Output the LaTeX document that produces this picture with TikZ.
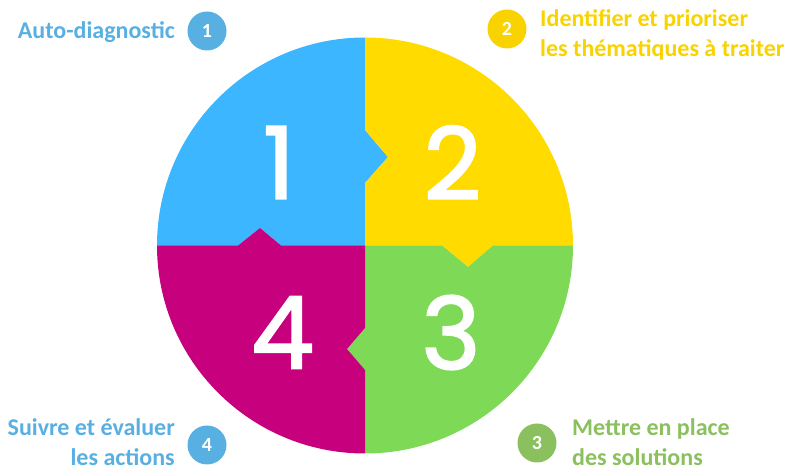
\documentclass[tikz,border=0pt]{standalone}
\usepackage{fontspec}
\setmainfont{Carlito}
\newfontfamily\bignum[FakeBold=2]{Poppins}
\definecolor{qblue}{HTML}{3CB6FF}
\definecolor{qyellow}{HTML}{FFDB00}
\definecolor{qgreen}{HTML}{7ED957}
\definecolor{qmag}{HTML}{C7007D}
\definecolor{lblue}{HTML}{58AFE2}
\definecolor{lyellow}{HTML}{F9D300}
\definecolor{lgreen}{HTML}{8BC05E}
\tikzset{
  bignumber/.style={text=white,font=\bignum\fontsize{100}{100}\selectfont,inner sep=0pt},
  badge/.style={circle,minimum size=39pt,inner sep=0pt,text=white,font=\bfseries\fontsize{20}{20}\selectfont},
  lbl/.style={font=\bfseries\fontsize{24}{30}\selectfont,inner sep=0pt}
}
\begin{document}
\begin{tikzpicture}[x=1pt,y=1pt]
\useasboundingbox (0,0) rectangle (788,471);
% quadrants
\fill[qblue] (365,225.5) -- (365,288) -- (388,314) -- (365,341) -- (365,433.5)
  arc[start angle=90,end angle=180,radius=208] -- (238,225.5) -- (260,243) -- (281,225.5) -- cycle;
\fill[qyellow] (365,225.5) -- (365,288) -- (388,314) -- (365,341) -- (365,433.5)
  arc[start angle=90,end angle=0,radius=208] -- (493,225.5) -- (468,204) -- (442,225.5) -- cycle;
\fill[qgreen] (365,225.5) -- (442,225.5) -- (468,204) -- (493,225.5) -- (573,225.5)
  arc[start angle=0,end angle=-90,radius=208] -- (365,101) -- (347,122) -- (365,143) -- cycle;
\fill[qmag] (365,225.5) -- (365,143) -- (347,122) -- (365,101) -- (365,17.5)
  arc[start angle=270,end angle=180,radius=208] -- (238,225.5) -- (260,243) -- (281,225.5) -- cycle;
% big numbers
\node[bignumber] (n1) at (279,308.5) {1};
\node[bignumber] (n2) at (452.5,308.5) {2};
\node[bignumber] (n3) at (451,138.5) {3};
\node[bignumber] (n4) at (282.5,138.5) {4};
% badges
\node[badge,fill=lblue] (b1) at (207,440) {1};
\node[badge,fill=lyellow] (b2) at (507,442) {2};
\node[badge,fill=lgreen] (b3) at (537,28) {3};
\node[badge,fill=lblue] (b4) at (207,26) {4};
% labels
\node[lbl,text=lblue,anchor=east] (t1) at (175,439) {Auto-diagnostic};
\node[lbl,text=lyellow,anchor=west,align=left] (t2) at (540,436) {Identifier et prioriser\\les thématiques à traiter};
\node[lbl,text=lgreen,anchor=west,align=left] (t3) at (572,29) {Mettre en place\\des solutions};
\node[lbl,text=lblue,anchor=east,align=right] (t4) at (175,29) {Suivre et évaluer\\les actions};
\end{tikzpicture}
\end{document}
